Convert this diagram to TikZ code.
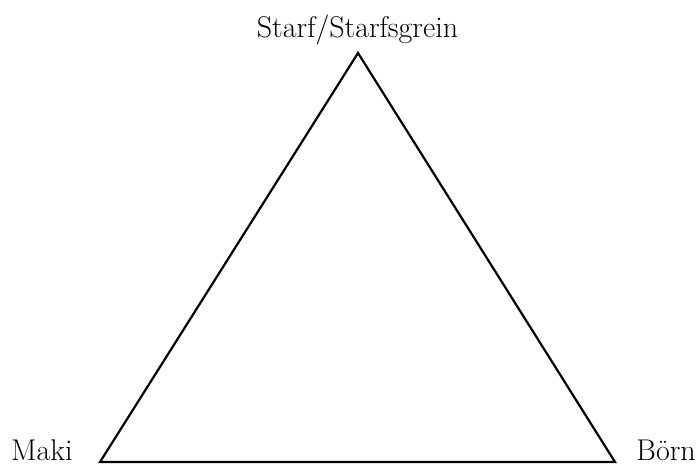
\documentclass[tikz,border=0pt]{standalone}
\usepackage{tikz}
\usetikzlibrary{positioning}

\begin{document}
\begin{tikzpicture}[
    x=1pt, y=-1pt,
    corner/.style={
        inner sep=0pt,
        font=\fontsize{30}{36}\selectfont
    },
    edge/.style={line width=2.2pt, line join=miter}
]
\useasboundingbox (0,0) rectangle (698,467);

% Corners of the triangle
\coordinate (top) at (358,53);
\coordinate (left) at (100,462);
\coordinate (right) at (615,462);

% Labels
\node[corner, anchor=base] (staff) at (357.5,37) {Starf/Starfsgrein};
\node[corner, anchor=base west] (kids) at (11,460) {Maki};
\node[corner, anchor=base east] (born) at (696,460) {Börn};

% Triangle
\draw[edge] (top) -- (left) -- (right) -- cycle;
\end{tikzpicture}
\end{document}
